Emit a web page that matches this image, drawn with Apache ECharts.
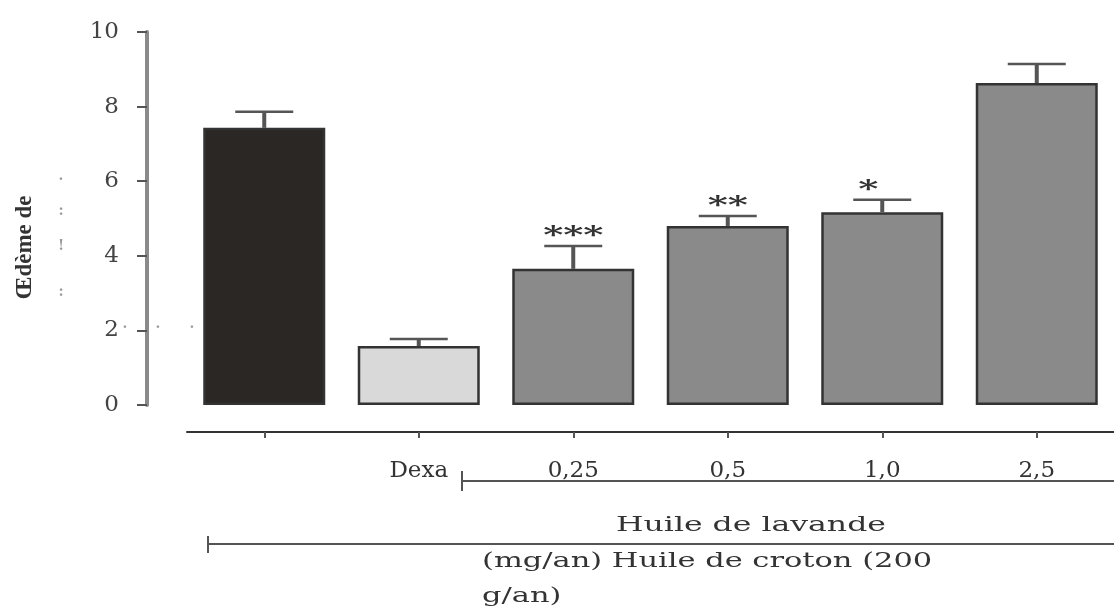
<!DOCTYPE html>
<html>
<head>
<meta charset="utf-8">
<script src="https://cdn.jsdelivr.net/npm/echarts@6/dist/echarts.min.js"></script>
<style>
  html, body { margin: 0; padding: 0; background: #fff; }
  #main { width: 1114px; height: 608px; }
</style>
</head>
<body>
<div id="main"></div>
<script>
'use strict';
// values
var categories = ['', 'Dexa', '0,25', '0,5', '1,0', '2,5'];
var means = [7.43, 1.58, 3.65, 4.80, 5.17, 8.63];
var errors = [0.43, 0.19, 0.61, 0.27, 0.33, 0.51];
var stars = ['', '', '***', '**', '*', ''];
var yTicks = [0, 2, 4, 6, 8, 10];

var barColors = ['#2b2724', '#d9d9d9', '#8a8a8a', '#8a8a8a', '#8a8a8a', '#8a8a8a'];
var serif = 'DejaVu Serif';

var chart = echarts.init(document.getElementById('main'));

var barData = means.map(function (v, i) {
	return { value: v, itemStyle: { color: barColors[i] } };
});
var errData = means.map(function (v, i) {
	return [i, v, errors[i]];
});

// stray scan marks next to the y axis
function speck(x, y, t) {
	return { type: 'text', x: x, y: y, style: { text: t, align: 'center', verticalAlign: 'middle', font: 'bold 14px ' + serif, fill: '#999' } };
}

chart.setOption({
	animation: false,
	backgroundColor: '#fff',
	grid: { left: 187, width: 936, top: 32, bottom: 203 },
	xAxis: {
		type: 'category',
		data: categories,
		offset: 27,
		axisLine: { onZero: false, lineStyle: { color: '#333', width: 2 } },
		axisTick: { show: true, alignWithLabel: true, length: 6, lineStyle: { color: '#555', width: 2 } },
		axisLabel: { margin: 28, color: '#333', fontFamily: serif, fontSize: 23 }
	},
	yAxis: {
		type: 'value',
		min: 0, max: 10, interval: 2,
		offset: 40,
		name: 'Œdème de',
		nameLocation: 'middle',
		nameRotate: 90,
		nameGap: 110,
		nameTextStyle: { fontFamily: 'Liberation Serif', fontWeight: 'bold', fontSize: 23, color: '#333', padding: [0, 58, 0, 0] },
		splitLine: { show: false },
		axisLine: { show: true, lineStyle: { color: '#8a8a8a', width: 4 } },
		axisTick: { show: true, length: 10, lineStyle: { color: '#555', width: 2 } },
		axisLabel: {
			margin: 28, color: '#444', fontFamily: serif, fontSize: 23,
			formatter: function (v) { return yTicks.indexOf(v) >= 0 ? String(v) : ''; }
		}
	},
	series: [{
		type: 'bar',
		data: barData,
		barWidth: 122,
		itemStyle: { borderColor: '#333', borderWidth: 2.5 }
	}, {
		type: 'custom',
		data: errData,
		z: 5,
		renderItem: function (params, api) {
			var idx = api.value(0);
			var m = api.value(1);
			var e = api.value(2);
			var base = api.coord([idx, m]);
			var top = api.coord([idx, m + e]);
			var cap = 58;
			var children = [{
				type: 'line',
				shape: { x1: base[0], y1: base[1], x2: top[0], y2: top[1] },
				style: { stroke: '#555', lineWidth: 4 }
			}, {
				type: 'line',
				shape: { x1: top[0] - cap / 2, y1: top[1], x2: top[0] + cap / 2, y2: top[1] },
				style: { stroke: '#555', lineWidth: 2.5 }
			}];
			var s = stars[params.dataIndex];
			if (s) {
				children.push({
					type: 'text',
					x: top[0] - (s.length === 1 ? 14 : 0),
					y: top[1] - 9,
					scaleX: 1.6,
					style: {
						text: s, align: 'center', verticalAlign: 'middle',
						font: 'bold 24px ' + serif, fill: '#333'
					}
				});
			}
			return { type: 'group', children: children };
		}
	}],
	graphic: [
		{ type: 'line', shape: { x1: 462, y1: 481, x2: 1114, y2: 481 }, style: { stroke: '#555', lineWidth: 2 } },
		{ type: 'line', shape: { x1: 462, y1: 471, x2: 462, y2: 491 }, style: { stroke: '#555', lineWidth: 2 } },
		{ type: 'line', shape: { x1: 208, y1: 544, x2: 1114, y2: 544 }, style: { stroke: '#555', lineWidth: 2 } },
		{ type: 'line', shape: { x1: 208, y1: 536, x2: 208, y2: 553 }, style: { stroke: '#555', lineWidth: 2 } },
		{ type: 'text', x: 751, y: 526, scaleX: 1.5,
			style: { text: 'Huile de lavande', align: 'center', verticalAlign: 'middle', font: '21px ' + serif, fill: '#333' } },
		{ type: 'text', x: 482, y: 562, scaleX: 1.45,
			style: { text: '(mg/an) Huile de croton (200', align: 'left', verticalAlign: 'middle', font: '21px ' + serif, fill: '#333' } },
		{ type: 'text', x: 482, y: 597, scaleX: 1.45,
			style: { text: 'g/an)', align: 'left', verticalAlign: 'middle', font: '21px ' + serif, fill: '#333' } },
		speck(61, 176, '.'),
		speck(61, 211, ':'),
		speck(61, 246, '!'),
		speck(61, 292, ':'),
		speck(125, 328, '·'),
		speck(158, 328, '·'),
		speck(192, 328, '·')
	]
});
</script>
</body>
</html>
